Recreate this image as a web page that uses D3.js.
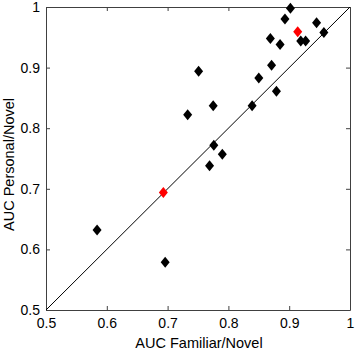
<!DOCTYPE html>
<html lang="en">
<head>
<meta charset="UTF-8">
<script src="https://d3js.org/d3.v7.min.js"></script>
<style>
  body { margin: 0; background: #fff; }
  svg { display: block; font-family: "Liberation Sans", Arial, sans-serif; }
</style>
</head>
<body>
<script>
  // AUC values
  const familiar = [0.902, 0.893, 0.945, 0.957, 0.869, 0.885, 0.919, 0.927, 0.751, 0.871, 0.850,
                    0.879, 0.775, 0.839, 0.733, 0.776, 0.790, 0.769, 0.584, 0.696, 0.914, 0.693];
  const personal = [0.998, 0.980, 0.974, 0.958, 0.948, 0.938, 0.944, 0.944, 0.894, 0.904, 0.883,
                    0.861, 0.837, 0.837, 0.822, 0.772, 0.757, 0.738, 0.632, 0.579, 0.959, 0.694];
  const highlighted = [false, false, false, false, false, false, false, false, false, false, false,
                       false, false, false, false, false, false, false, false, false, true, true];
  const ticks = [0.5, 0.6, 0.7, 0.8, 0.9, 1];

  const width = 355, height = 354;
  const margin = { top: 7, right: 5, bottom: 44, left: 46 };

  const svg = d3.select("body").append("svg")
      .attr("width", width)
      .attr("height", height);

  const x = d3.scaleLinear().domain([0.5, 1]).range([margin.left, width - margin.right]);
  const y = d3.scaleLinear().domain([0.5, 1]).range([height - margin.bottom, margin.top]);

  // inward ticks on all four sides
  const fmt = d => d === 1 ? "1" : d3.format(".1f")(d);
  svg.append("g")
      .attr("transform", `translate(0,${y(0.5)})`)
      .call(d3.axisBottom(x).tickValues(ticks).tickFormat(fmt).tickSizeInner(-4).tickSizeOuter(0).tickPadding(8));
  svg.append("g")
      .attr("transform", `translate(0,${y(1)})`)
      .call(d3.axisTop(x).tickValues(ticks).tickFormat("").tickSizeInner(-4).tickSizeOuter(0));
  svg.append("g")
      .attr("transform", `translate(${x(0.5)},0)`)
      .call(d3.axisLeft(y).tickValues(ticks).tickFormat(fmt).tickSizeInner(-4).tickSizeOuter(0).tickPadding(6));
  svg.append("g")
      .attr("transform", `translate(${x(1)},0)`)
      .call(d3.axisRight(y).tickValues(ticks).tickFormat("").tickSizeInner(-4).tickSizeOuter(0));

  svg.selectAll(".domain").attr("stroke", "#404040");
  svg.selectAll(".tick line").attr("stroke", "#404040");
  svg.selectAll(".tick text").attr("font-size", 14).attr("fill", "#000")
      .attr("font-family", "'Liberation Sans', Arial, sans-serif");

  // diagonal
  svg.append("line")
      .attr("x1", x(0.5)).attr("y1", y(0.5))
      .attr("x2", x(1)).attr("y2", y(1))
      .attr("stroke", "#000").attr("stroke-width", 1);

  // diamonds
  const diamond = "M0,-5.5L4.5,0L0,5.5L-4.5,0Z";
  svg.selectAll("path.pt")
      .data(d3.range(familiar.length))
      .join("path")
      .attr("class", "pt")
      .attr("d", diamond)
      .attr("transform", i => `translate(${x(familiar[i])},${y(personal[i])})`)
      .attr("fill", i => highlighted[i] ? "#ff0000" : "#000");

  // axis labels
  svg.append("text")
      .attr("x", (x(0.5) + x(1)) / 2 + 1)
      .attr("y", height - 6.5)
      .attr("text-anchor", "middle")
      .attr("font-size", 14.5)
      .text("AUC Familiar/Novel");

  svg.append("text")
      .attr("transform", `translate(13.5,${(y(0.5) + y(1)) / 2 + 6}) rotate(-90)`)
      .attr("text-anchor", "middle")
      .attr("font-size", 14.5)
      .text("AUC Personal/Novel");
</script>
</body>
</html>
